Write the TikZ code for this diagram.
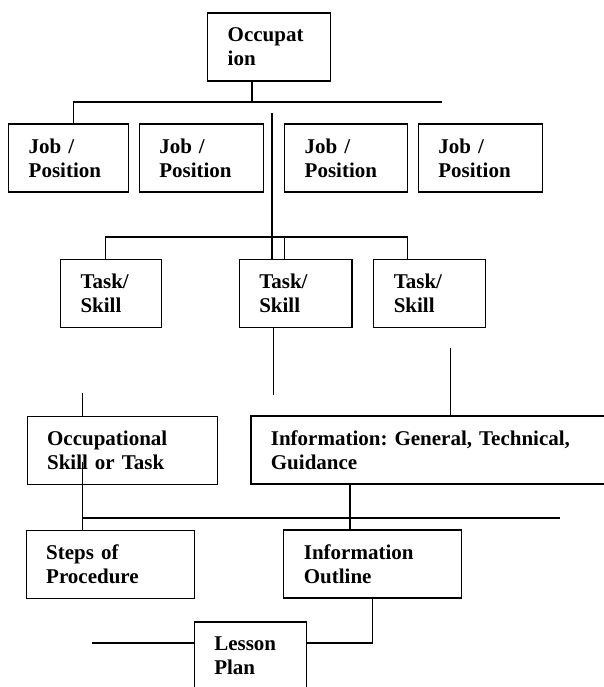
\documentclass[tikz,border=0pt]{standalone}
\usepackage{fontspec}
\setmainfont{Liberation Serif}
\frenchspacing

\begin{document}
\begin{tikzpicture}[x=1pt, y=-1pt, line width=1.2pt,
    box/.style={draw, align=left, inner xsep=20pt, inner ysep=0pt,
        minimum height=68pt, text width=#1,
        font=\fontsize{21}{24}\selectfont\bfseries}]

    \useasboundingbox (0,0) rectangle (603,687);

    \node[box=83pt] (occ) at (269.2, 47) {Occupat\\ion};
    \node[box=80pt] (job1) at (68.7, 158) {Job /\\Position};
    \node[box=84pt] (job2) at (201.3, 158) {Job /\\Position};
    \node[box=83pt] (job3) at (346.2, 158) {Job /\\Position};
    \node[box=84pt] (job4) at (480.4, 158) {Job /\\Position};
    \node[box=61pt] (task1) at (111, 293.5) {Task/\\Skill};
    \node[box=72.7pt] (task2) at (295.6, 293.5) {Task/\\Skill};
    \node[box=71.6pt] (task3) at (429.6, 293.5) {Task/\\Skill};
    \node[box=150pt] (skill) at (122.1, 450.5) {Occupational\\Skill or Task};
    \node[box=329pt] (info) at (435.4, 450) {Information: General, Technical,\\Guidance};
    \node[box=128pt] (steps) at (110.2, 564.5) {Steps of\\Procedure};
    \node[box=137.7pt] (outline) at (372.7, 564) {Information\\Outline};
    \node[box=72.3pt] (lesson) at (250.4, 656) {Lesson\\Plan};

    \coordinate (occstem) at (251.9, 102);
    \coordinate (jbusl) at (73.1, 102);
    \coordinate (jbusr) at (442.3, 102);
    \coordinate (tstem) at (271.9, 113);
    \coordinate (tbusl) at (105.8, 237);
    \coordinate (tbusm) at (284.6, 237);
    \coordinate (tbusr) at (407.7, 237);
    \coordinate (t2end) at (273.8, 395);
    \coordinate (t3end) at (450.8, 348);
    \coordinate (sktop) at (82.7, 393);
    \coordinate (skmid) at (82.7, 462);
    \coordinate (sbusl) at (82.7, 518);
    \coordinate (sbusr) at (559.6, 518);
    \coordinate (ibus) at (350, 518);
    \coordinate (lcorner) at (372.3, 643);
    \coordinate (lstub) at (92.3, 643);

    \draw (occ.south -| occstem) -- (occstem);
    \draw (jbusr) -- (jbusl) -- (job1.north -| jbusl);
    \draw (tstem) -- (task2.north -| tstem);
    \draw (task1.north -| tbusl) -- (tbusl) -- (tbusr) -- (task3.north -| tbusr);
    \draw (tbusm) -- (task2.north -| tbusm);
    \draw (task2.south -| t2end) -- (t2end);
    \draw (t3end) -- (info.north -| t3end);
    \draw (sktop) -- (skill.north -| sktop);
    \draw (skmid) -- (sbusl) -- (steps.north -| sbusl);
    \draw (sbusl) -- (sbusr);
    \draw (info.south -| ibus) -- (outline.north -| ibus);
    \draw (outline.south -| lcorner) -- (lcorner) -- (lesson.east |- lcorner);
    \draw (lstub) -- (lesson.west |- lstub);

\end{tikzpicture}
\end{document}
